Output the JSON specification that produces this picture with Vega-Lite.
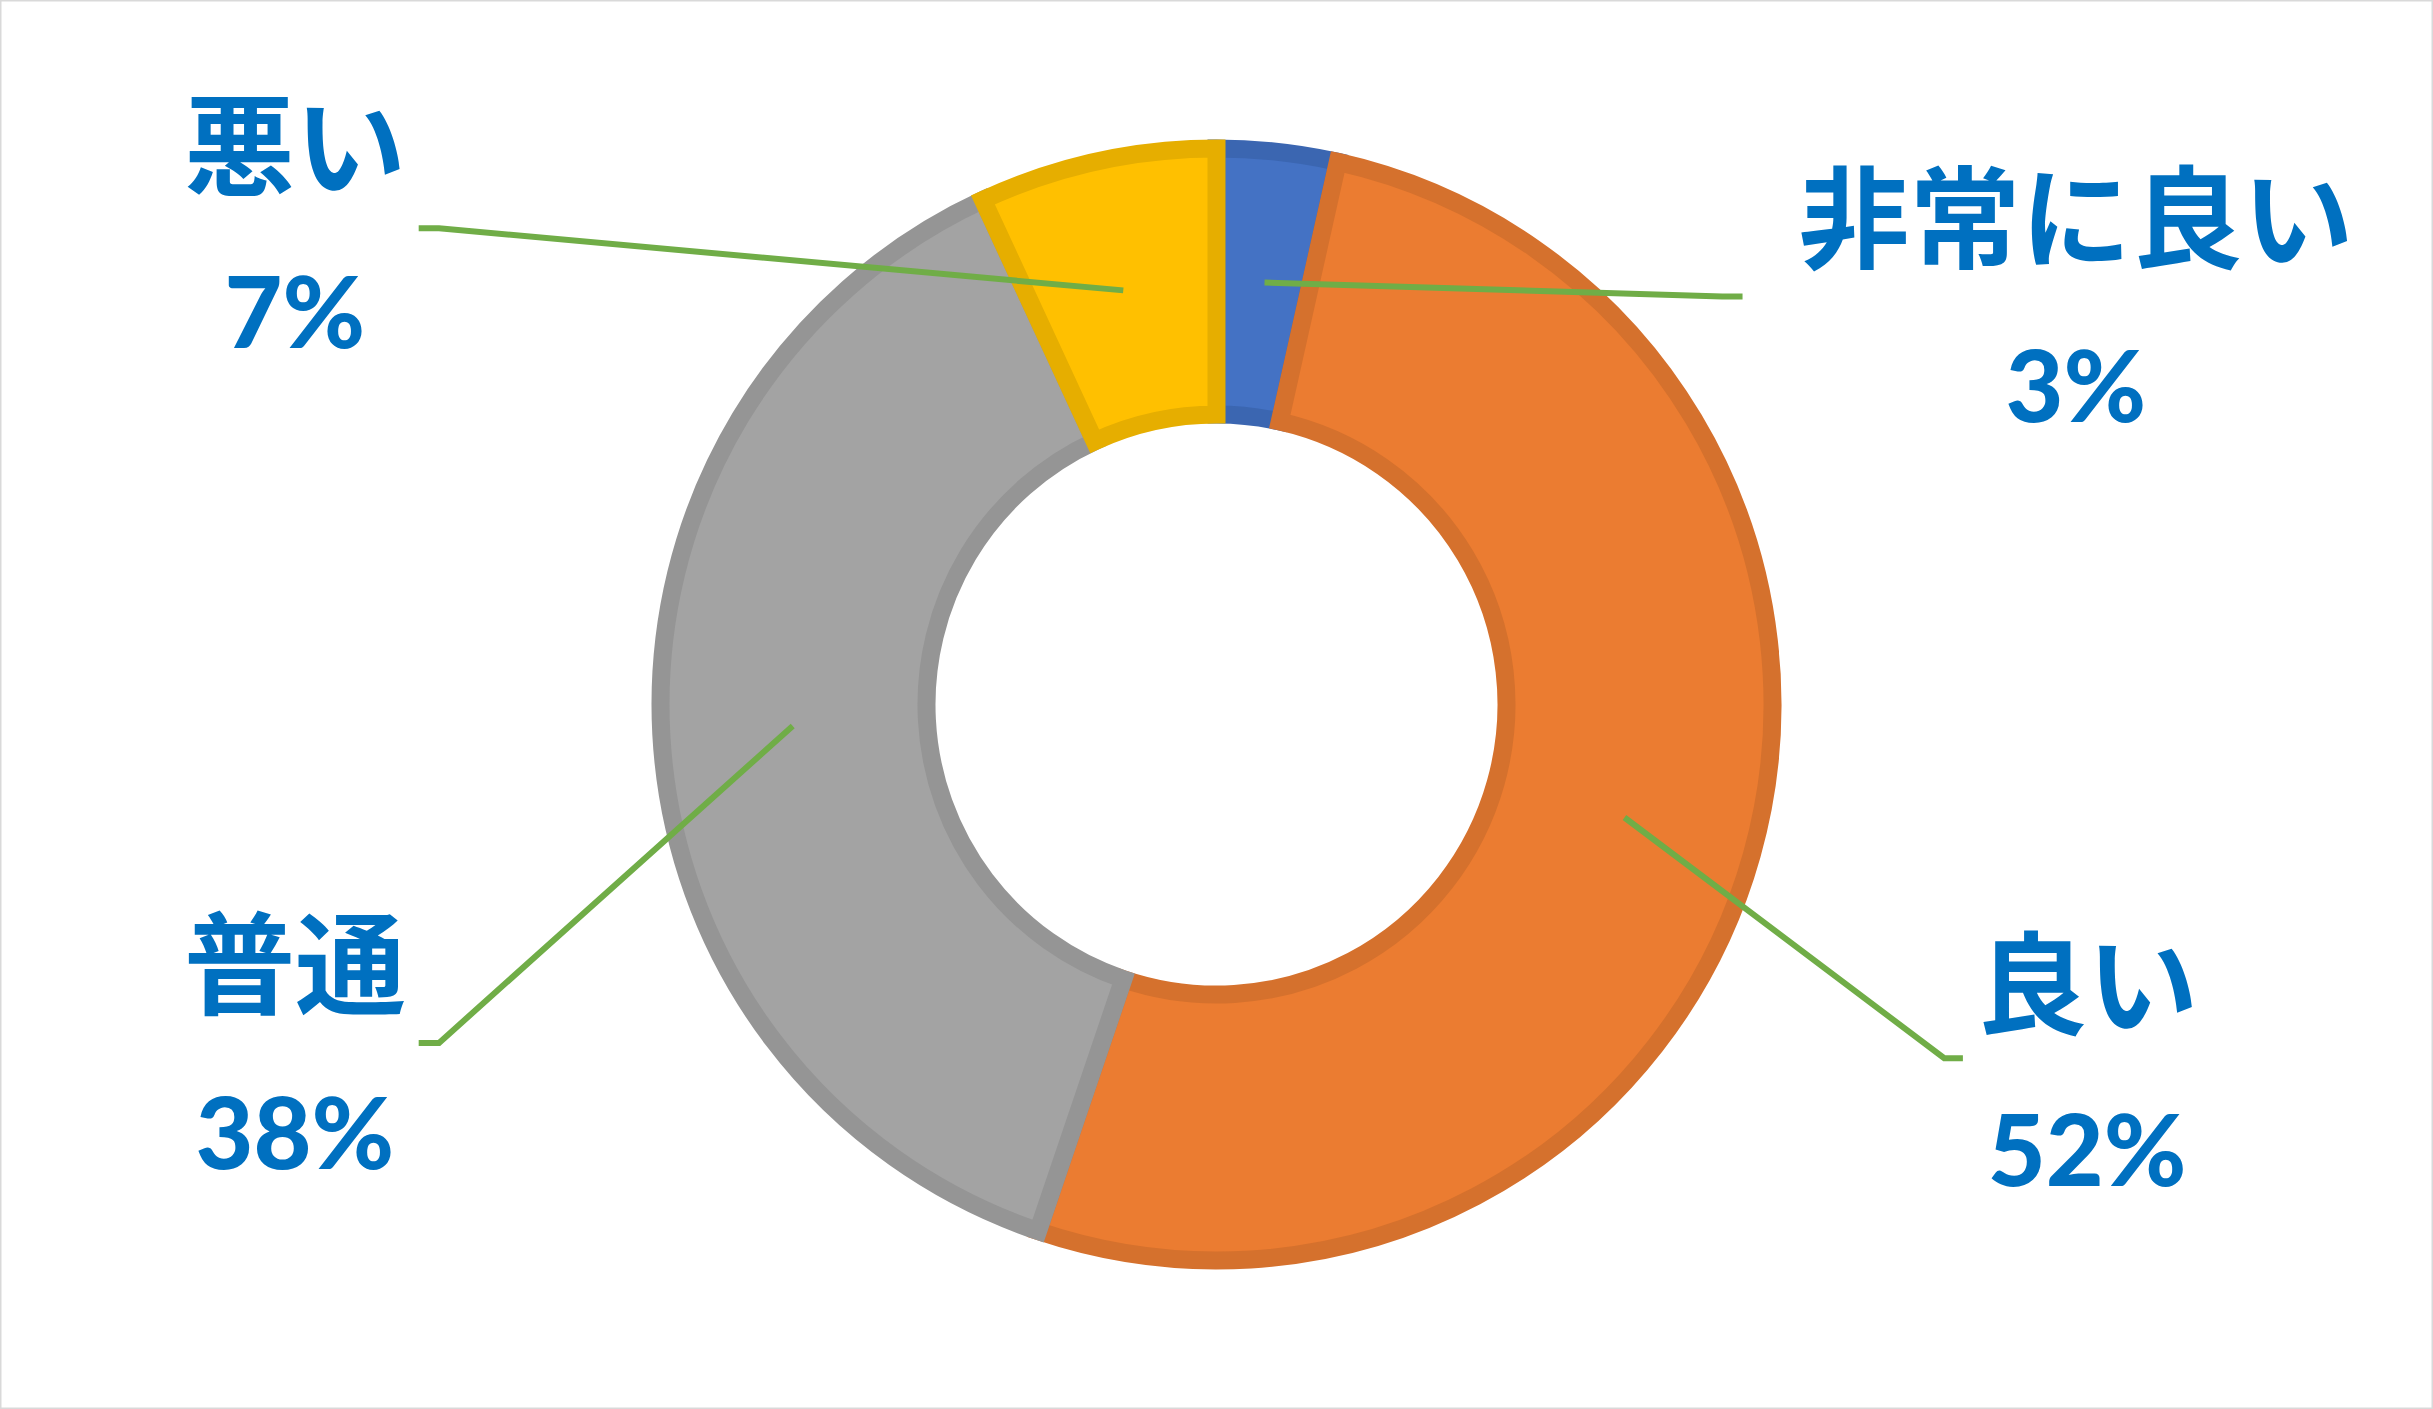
{
  "$schema": "https://vega.github.io/schema/vega-lite/v6.json",
  "width": 2433,
  "height": 1409,
  "padding": 0,
  "autosize": {"type": "fit", "contains": "padding"},
  "background": "white",
  "datasets": {
    "slices": [
      {"category": "非常に良い", "value": 3.5, "order": 1},
      {"category": "良い", "value": 51.7, "order": 2},
      {"category": "普通", "value": 37.9, "order": 3},
      {"category": "悪い", "value": 6.9, "order": 4}
    ],
    "leaders": [
      {"category": "非常に良い", "seq": 1, "x": 0.085, "y": 0.747},
      {"category": "非常に良い", "seq": 2, "x": 0.895, "y": 0.722},
      {"category": "非常に良い", "seq": 3, "x": 0.931, "y": 0.722},
      {"category": "良い", "seq": 1, "x": 0.722, "y": -0.2},
      {"category": "良い", "seq": 2, "x": 1.288, "y": -0.626},
      {"category": "良い", "seq": 3, "x": 1.321, "y": -0.626},
      {"category": "普通", "seq": 1, "x": -0.75, "y": -0.038},
      {"category": "普通", "seq": 2, "x": -1.376, "y": -0.599},
      {"category": "普通", "seq": 3, "x": -1.412, "y": -0.599},
      {"category": "悪い", "seq": 1, "x": -0.165, "y": 0.733},
      {"category": "悪い", "seq": 2, "x": -1.376, "y": 0.843},
      {"category": "悪い", "seq": 3, "x": -1.412, "y": 0.843}
    ],
    "names": [
      {"label": "非常に良い", "x": 1.521, "y": 0.845},
      {"label": "良い", "x": 1.541, "y": -0.511},
      {"label": "普通", "x": -1.631, "y": -0.475},
      {"label": "悪い", "x": -1.631, "y": 0.973}
    ],
    "percents": [
      {"label": "3%", "x": 1.521, "y": 0.553},
      {"label": "52%", "x": 1.541, "y": -0.799},
      {"label": "38%", "x": -1.631, "y": -0.769},
      {"label": "7%", "x": -1.631, "y": 0.684}
    ]
  },
  "layer": [
    {
      "data": {"name": "slices"},
      "mark": {"type": "arc", "outerRadius": 556, "innerRadius": 290, "strokeWidth": 18, "strokeJoin": "miter"},
      "encoding": {
        "theta": {"field": "value", "type": "quantitative", "stack": true},
        "order": {"field": "order", "type": "quantitative"},
        "color": {
          "field": "category",
          "type": "nominal",
          "legend": null,
          "scale": {
            "domain": ["非常に良い", "良い", "普通", "悪い"],
            "range": ["#4472C4", "#EB7C31", "#A3A3A3", "#FFC000"]
          }
        },
        "stroke": {
          "field": "category",
          "type": "nominal",
          "legend": null,
          "scale": {
            "domain": ["非常に良い", "良い", "普通", "悪い"],
            "range": ["#3B66B1", "#D5712D", "#959595", "#E6AE00"]
          }
        }
      }
    },
    {
      "data": {"name": "leaders"},
      "mark": {"type": "line", "color": "#70AD47", "strokeWidth": 6, "strokeJoin": "miter"},
      "encoding": {
        "x": {"field": "x", "type": "quantitative", "axis": null, "scale": {"domain": [-2.153, 2.153], "nice": false, "zero": false}},
        "y": {"field": "y", "type": "quantitative", "axis": null, "scale": {"domain": [-1.247, 1.247], "nice": false, "zero": false}},
        "detail": {"field": "category", "type": "nominal"},
        "order": {"field": "seq", "type": "quantitative"}
      }
    },
    {
      "data": {"name": "names"},
      "mark": {"type": "text", "font": "Noto Sans CJK JP", "fontWeight": "bold", "fontSize": 111, "color": "#0070C0", "align": "center", "baseline": "middle"},
      "encoding": {
        "x": {"field": "x", "type": "quantitative"},
        "y": {"field": "y", "type": "quantitative"},
        "text": {"field": "label"}
      }
    },
    {
      "data": {"name": "percents"},
      "mark": {"type": "text", "font": "Lato", "fontWeight": 900, "fontSize": 100, "color": "#0070C0", "align": "center", "baseline": "middle"},
      "encoding": {
        "x": {"field": "x", "type": "quantitative"},
        "y": {"field": "y", "type": "quantitative"},
        "text": {"field": "label"}
      }
    }
  ],
  "config": {
    "view": {"stroke": "#D9D9D9", "strokeWidth": 3}
  }
}
